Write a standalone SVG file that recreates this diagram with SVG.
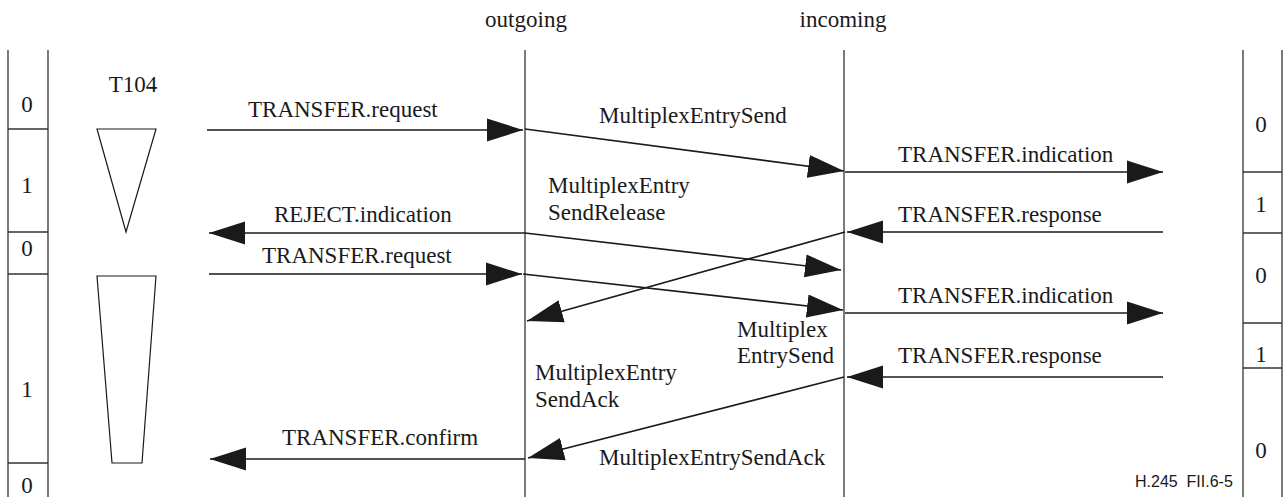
<svg xmlns="http://www.w3.org/2000/svg" width="1283" height="497" viewBox="0 0 1283 497">
<style>
text{font-family:"Liberation Serif","Times New Roman",Times,serif;font-size:23px;fill:#1a1a1a}
.frame{stroke:#333;stroke-width:1.3;fill:none}
.shape{stroke:#1a1a1a;stroke-width:1.2;fill:none}
.arr{stroke:#1a1a1a;stroke-width:1.7;fill:none;marker-end:url(#ah)}
.mid{text-anchor:middle}
.note{font-family:"Liberation Sans",Arial,sans-serif;font-size:16px;white-space:pre}
</style>
<defs>
<marker id="ah" markerUnits="userSpaceOnUse" markerWidth="37" markerHeight="24" refX="36" refY="12" orient="auto" viewBox="0 0 37 24">
<path d="M0,0.5 L36,12 L0,23.5 Z" fill="#1a1a1a"/>
</marker>
</defs>
<rect width="1283" height="497" fill="#fff"/>
<g id="headers">
<text class="mid" x="526" y="27">outgoing</text>
<text class="mid" x="843" y="27">incoming</text>
</g>
<g id="left-column">
<path class="frame" d="M8,50 V497 M48,50 V497 M8,129 H48 M8,232 H48 M8,274 H48 M8,463 H48"/>
<text class="mid" x="27" y="112">0</text>
<text class="mid" x="27" y="193">1</text>
<text class="mid" x="27" y="256">0</text>
<text class="mid" x="27" y="397">1</text>
<text class="mid" x="27" y="493">0</text>
</g>
<g id="right-column">
<path class="frame" d="M1243,50 V497 M1282,50 V497 M1243,172 H1282 M1243,233 H1282 M1243,323 H1282 M1243,368 H1282"/>
<text class="mid" x="1261" y="132">0</text>
<text class="mid" x="1261" y="212">1</text>
<text class="mid" x="1261" y="283">0</text>
<text class="mid" x="1261" y="362">1</text>
<text class="mid" x="1261" y="458">0</text>
</g>
<g id="t104">
<text class="mid" x="133" y="92">T104</text>
<polygon class="shape" points="97,129 156,129 126,232"/>
<polygon class="shape" points="97,276 156,276 142,463 112,463"/>
</g>
<g id="outgoing-line"><path class="frame" d="M525,50 V497"/></g>
<g id="incoming-line"><path class="frame" d="M844,50 V497"/></g>
<g id="connectors">
<line class="arr" x1="207" y1="130" x2="523" y2="130"/>
<line class="arr" x1="525" y1="129" x2="844" y2="171"/>
<line class="arr" x1="845" y1="172" x2="1163" y2="172"/>
<line class="arr" x1="1163" y1="232" x2="847" y2="232"/>
<line class="arr" x1="845" y1="232" x2="527" y2="321"/>
<line class="arr" x1="525" y1="233" x2="209" y2="233"/>
<line class="arr" x1="525" y1="233" x2="841" y2="270"/>
<line class="arr" x1="209" y1="274" x2="522" y2="274"/>
<line class="arr" x1="523" y1="274" x2="843" y2="310"/>
<line class="arr" x1="845" y1="313" x2="1163" y2="313"/>
<line class="arr" x1="1163" y1="377" x2="847" y2="377"/>
<line class="arr" x1="844" y1="377" x2="528" y2="458"/>
<line class="arr" x1="525" y1="459" x2="210" y2="459"/>
</g>
<g id="labels">
<text x="248" y="117">TRANSFER.request</text>
<text x="599" y="123">MultiplexEntrySend</text>
<text x="898" y="162">TRANSFER.indication</text>
<text x="548" y="193">MultiplexEntry</text>
<text x="548" y="220">SendRelease</text>
<text x="274" y="222">REJECT.indication</text>
<text x="898" y="222">TRANSFER.response</text>
<text x="262" y="263">TRANSFER.request</text>
<text x="898" y="303">TRANSFER.indication</text>
<text x="737" y="337">Multiplex</text>
<text x="737" y="363">EntrySend</text>
<text x="898" y="363">TRANSFER.response</text>
<text x="535" y="380">MultiplexEntry</text>
<text x="535" y="407">SendAck</text>
<text x="282" y="445">TRANSFER.confirm</text>
<text x="599" y="465">MultiplexEntrySendAck</text>
</g>
<g id="figure-id">
<text class="note" x="1135" y="487">H.245  FII.6-5</text>
</g>
</svg>
